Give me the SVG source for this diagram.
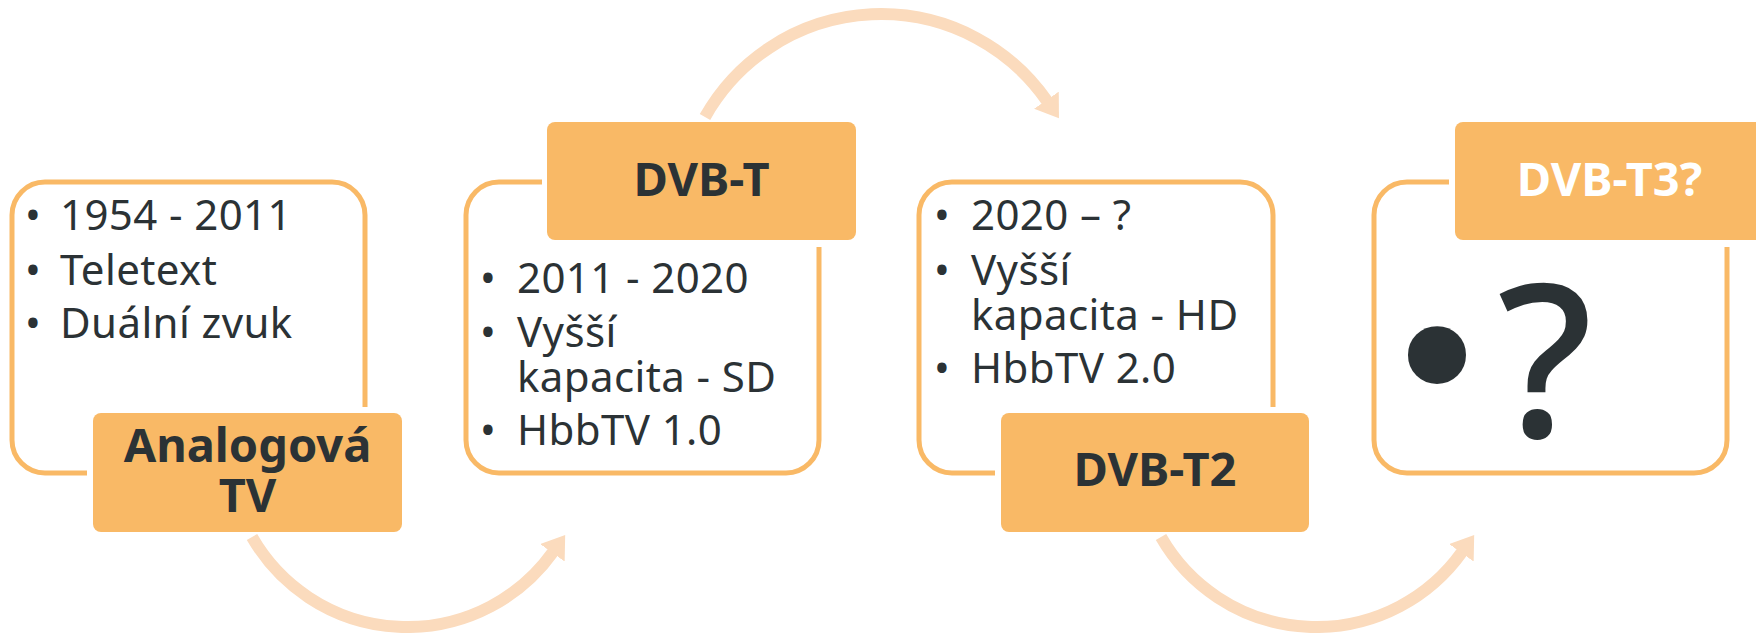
<svg xmlns="http://www.w3.org/2000/svg" width="1756" height="633" viewBox="0 0 1756 633">
  <defs>
    <style>
      .frame { fill: none; stroke: #F9B966; stroke-width: 5; stroke-linecap: butt; }
      .label { fill: #F9B966; }
      .conn { fill: none; stroke: #FBDBBD; stroke-width: 12; }
      .t { font-family: "Noto Sans", "Open Sans", sans-serif; font-size: 42px; fill: #2B3235; letter-spacing: 0.4px; }
      .b { font-family: "Noto Sans", "Open Sans", sans-serif; font-size: 42px; fill: #2B3235; text-anchor: middle; }
      .h { font-family: "Noto Sans", "Open Sans", sans-serif; font-size: 47px; font-weight: bold; fill: #2B3235; text-anchor: middle; }
      .hw { fill: #FFFFFF; }
    </style>
    <marker id="arrow" markerUnits="userSpaceOnUse" markerWidth="23" markerHeight="30" viewBox="0 0 23 30" refX="1" refY="15" orient="auto">
      <path d="M0,0 L22,15 L0,30 Z" fill="#FBDBBD"/>
    </marker>
  </defs>

  <g id="connectors">
    <path class="conn" d="M 252 537 A 179 179 0 0 0 553 552" marker-end="url(#arrow)"/>
    <path class="conn" d="M 705 117 A 202 202 0 0 1 1047 101" marker-end="url(#arrow)"/>
    <path class="conn" d="M 1161 537 A 179 179 0 0 0 1462 552" marker-end="url(#arrow)"/>
  </g>

  <g id="node-analog">
    <path class="frame" d="M 87 473 H 45 A 33 33 0 0 1 12 440 V 215 A 33 33 0 0 1 45 182 H 332 A 33 33 0 0 1 365 215 V 407"/>
    <text class="b" x="33" y="230">•</text>
    <text class="t" x="60" y="230">1954 - 2011</text>
    <text class="b" x="33" y="285">•</text>
    <text class="t" x="60" y="285">Teletext</text>
    <text class="b" x="33" y="338">•</text>
    <text class="t" x="60" y="338">Duální zvuk</text>
    <rect class="label" x="93" y="413" width="309" height="119" rx="8"/>
    <text class="h" x="247.5" y="462">Analogová<tspan x="247.5" y="512">TV</tspan></text>
  </g>

  <g id="node-dvbt">
    <path class="frame" d="M 542 182 H 499 A 33 33 0 0 0 466 215 V 440 A 33 33 0 0 0 499 473 H 786 A 33 33 0 0 0 819 440 V 247"/>
    <rect class="label" x="547" y="122" width="309" height="118" rx="8"/>
    <text class="h" x="701.5" y="196">DVB-T</text>
    <text class="b" x="488" y="293">•</text>
    <text class="t" x="517" y="293">2011 - 2020</text>
    <text class="b" x="488" y="347">•</text>
    <text class="t" x="517" y="347">Vyšší<tspan x="517" y="392">kapacita - SD</tspan></text>
    <text class="b" x="488" y="445">•</text>
    <text class="t" x="517" y="445">HbbTV 1.0</text>
  </g>

  <g id="node-dvbt2">
    <path class="frame" d="M 995 473 H 952 A 33 33 0 0 1 919 440 V 215 A 33 33 0 0 1 952 182 H 1240 A 33 33 0 0 1 1273 215 V 407"/>
    <text class="b" x="942" y="230">•</text>
    <text class="t" x="971" y="230">2020 – ?</text>
    <text class="b" x="942" y="285">•</text>
    <text class="t" x="971" y="285">Vyšší<tspan x="971" y="330">kapacita - HD</tspan></text>
    <text class="b" x="942" y="383">•</text>
    <text class="t" x="971" y="383">HbbTV 2.0</text>
    <rect class="label" x="1001" y="413" width="308" height="119" rx="8"/>
    <text class="h" x="1155" y="486">DVB-T2</text>
  </g>

  <g id="node-dvbt3">
    <path class="frame" d="M 1449 182 H 1407 A 33 33 0 0 0 1374 215 V 440 A 33 33 0 0 0 1407 473 H 1694 A 33 33 0 0 0 1727 440 V 247"/>
    <rect class="label" x="1455" y="122" width="309" height="118" rx="8"/>
    <text class="h hw" x="1609.5" y="196">DVB-T3?</text>
    <text class="b" x="1437" y="429" style="font-family:'DejaVu Sans', sans-serif; font-size:200px">•</text>
    <text class="b" x="1545" y="437" style="font-size:213px; font-weight:500">?</text>
  </g>
</svg>
